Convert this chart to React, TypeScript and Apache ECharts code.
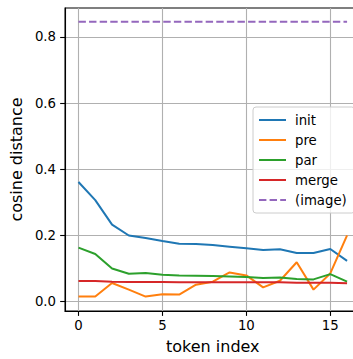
import React, { useEffect, useRef } from "react";
import * as echarts from "echarts";

const tokenIndex = [0, 1, 2, 3, 4, 5, 6, 7, 8, 9, 10, 11, 12, 13, 14, 15, 16];
const initValues = [0.361, 0.306, 0.232, 0.199, 0.191, 0.182, 0.174, 0.173, 0.17, 0.165, 0.16, 0.155, 0.157, 0.146, 0.146, 0.158, 0.122];
const preValues = [0.014, 0.014, 0.055, 0.035, 0.014, 0.021, 0.02, 0.05, 0.059, 0.087, 0.078, 0.042, 0.062, 0.118, 0.035, 0.084, 0.199];
const parValues = [0.162, 0.143, 0.099, 0.083, 0.085, 0.08, 0.078, 0.077, 0.076, 0.075, 0.073, 0.07, 0.072, 0.067, 0.066, 0.082, 0.059];
const mergeValues = [0.061, 0.061, 0.059, 0.058, 0.058, 0.058, 0.057, 0.057, 0.057, 0.057, 0.057, 0.057, 0.057, 0.056, 0.056, 0.056, 0.054];
const imageValues = [0.846, 0.846, 0.846, 0.846, 0.846, 0.846, 0.846, 0.846, 0.846, 0.846, 0.846, 0.846, 0.846, 0.846, 0.846, 0.846, 0.846];
const seriesNames = ["init", "pre", "par", "merge", "(image)"];
const seriesColors = ["#1f77b4", "#ff7f0e", "#2ca02c", "#d62728", "#9467bd"];
const xTicks = [0, 5, 10, 15];
const yTicks = [0, 0.2, 0.4, 0.6, 0.8];

const FONT = "DejaVu Sans";

export default function App() {
  const ref = useRef<HTMLDivElement>(null);
  useEffect(() => {
    const chart = echarts.init(ref.current as HTMLDivElement, null, { renderer: "svg" });
    const allValues = [initValues, preValues, parValues, mergeValues, imageValues];
    const series = seriesNames.map((name, k) => ({
      type: "line",
      name,
      data: tokenIndex.map((x, i) => [x, allValues[k][i]]),
      symbol: "none",
      lineStyle: {
        color: seriesColors[k],
        width: 2,
        type: k === 4 ? [7.4, 3.2] : "solid",
      },
      itemStyle: { color: seriesColors[k] },
      animation: false,
    }));
    chart.setOption({
      animation: false,
      grid: {
        left: 63.3,
        right: 9.5,
        top: 8,
        bottom: 46.3,
        show: true,
        borderColor: "#000",
        borderWidth: 1.1,
        backgroundColor: "transparent",
      },
      legend: {
        orient: "vertical",
        left: 253,
        top: 107,
        itemWidth: 27,
        itemHeight: 14,
        itemGap: 6,
        padding: [6, 8, 6, 5],
        backgroundColor: "rgba(255,255,255,0.8)",
        borderColor: "#cccccc",
        borderWidth: 1,
        borderRadius: 3,
        itemStyle: { opacity: 0 },
        textStyle: {
          fontSize: 13.3,
          fontFamily: FONT,
          color: "#000",
          lineHeight: 14,
          padding: [0, 0, 0, 4],
        },
        data: seriesNames,
      },
      xAxis: {
        type: "value",
        min: -0.8,
        max: 16.8,
        name: "token index",
        nameLocation: "middle",
        nameGap: 27,
        nameTextStyle: { fontSize: 16, fontFamily: FONT, color: "#000" },
        axisLine: { show: true, onZero: false, lineStyle: { color: "#000", width: 1.1 } },
        axisTick: { show: true, length: 4.9, inside: false, customValues: xTicks, lineStyle: { color: "#000", width: 1.1 } },
        axisLabel: { customValues: xTicks, fontSize: 13.3, fontFamily: FONT, color: "#000", margin: 8 },
        splitLine: { show: true, lineStyle: { color: "#b0b0b0", width: 1.1 } },
      },
      yAxis: {
        type: "value",
        min: -0.0297,
        max: 0.8877,
        name: "cosine distance",
        nameLocation: "middle",
        nameGap: 36,
        nameRotate: 90,
        nameTextStyle: { fontSize: 16, fontFamily: FONT, color: "#000" },
        axisLine: { show: true, onZero: false, lineStyle: { color: "#000", width: 1.1 } },
        axisTick: { show: true, length: 4.9, inside: false, customValues: yTicks, lineStyle: { color: "#000", width: 1.1 } },
        axisLabel: {
          customValues: yTicks,
          fontSize: 13.3,
          fontFamily: FONT,
          color: "#000",
          margin: 9,
          formatter: (v: number) => v.toFixed(1),
        },
        splitLine: { show: true, lineStyle: { color: "#b0b0b0", width: 1.1 } },
      },
      series,
    });
    return () => chart.dispose();
  }, []);
  return (
    <div
      style={{
        position: "fixed",
        left: 0,
        top: 0,
        width: 353,
        height: 359,
        overflow: "hidden",
        background: "#fff",
      }}
    >
      <div ref={ref} style={{ width: 370, height: 359 }} />
    </div>
  );
}
